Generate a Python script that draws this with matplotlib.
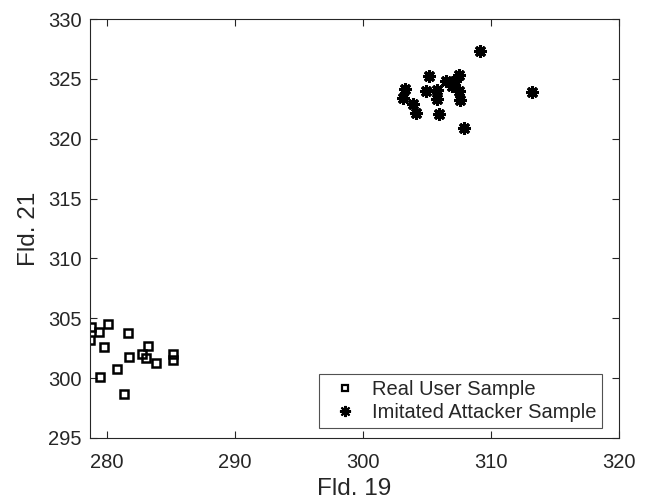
import matplotlib
matplotlib.use("Agg")
import matplotlib.pyplot as plt
from matplotlib.lines import Line2D

plt.rcParams['font.family'] = ['Liberation Sans', 'DejaVu Sans']

# real user samples (Fld. 19, Fld. 21)
real_x = [278.75, 280.13, 279.42, 278.7, 281.7, 279.82, 283.22, 282.75, 283.1,
          281.74, 283.84, 285.14, 285.2, 280.78, 279.45, 281.37]
real_y = [304.3, 304.5, 303.83, 303.2, 303.8, 302.63, 302.7, 302.05, 301.65,
          301.77, 301.3, 302.0, 301.5, 300.76, 300.1, 298.7]

# imitated attacker samples
atk_x = [309.18, 305.2, 303.27, 303.16, 303.94, 304.18, 304.96, 305.82, 305.77,
         305.95, 306.47, 306.99, 307.5, 307.5, 307.6, 307.86, 313.17, 307.2]
atk_y = [327.33, 325.26, 324.15, 323.43, 322.9, 322.17, 323.98, 324.04, 323.35,
         322.1, 324.84, 324.4, 325.3, 324.0, 323.2, 320.87, 323.9, 324.8]

labels = ['Real User Sample', 'Imitated Attacker Sample']
dark = '#262626'
star = (8, 2, 0)

fig = plt.figure(figsize=(6.49, 5.04), dpi=100)
ax = fig.add_axes([0.1387, 0.131, 0.8151, 0.8313])

ax.plot(real_x, real_y, linestyle='none', marker='s', markersize=6,
        markerfacecolor='none', markeredgecolor='black', markeredgewidth=1.8)
ax.plot(atk_x, atk_y, linestyle='none', marker=star, markersize=9,
        markeredgecolor='black', markeredgewidth=2.2)

ax.set_xlim(278.7, 320)
ax.set_ylim(295, 330)
ax.set_xticks([280, 290, 300, 310, 320])
ax.set_yticks([295, 300, 305, 310, 315, 320, 325, 330])

ax.tick_params(direction='in', top=True, right=True, length=5, width=0.8,
               labelsize=14.5, colors=dark)
ax.tick_params(axis='x', pad=11)
ax.tick_params(axis='y', pad=6)
for s in ax.spines.values():
    s.set_color(dark)
    s.set_linewidth(0.8)

ax.set_xlabel('Fld. 19', fontsize=17.5, color=dark, labelpad=4)
ax.set_ylabel('Fld. 21', fontsize=17.5, color=dark, labelpad=6)

# smaller markers in the legend, like the original
handles = [
    Line2D([], [], linestyle='none', marker='s', markersize=5,
           markerfacecolor='none', markeredgecolor='black', markeredgewidth=1.6),
    Line2D([], [], linestyle='none', marker=star, markersize=8,
           markeredgecolor='black', markeredgewidth=1.5),
]
leg = ax.legend(handles, labels, loc='lower right',
                bbox_to_anchor=(0.968, 0.024),
                fontsize=14.5, frameon=True, fancybox=False, edgecolor=dark,
                borderaxespad=0, borderpad=0.3, handlelength=2.0,
                handletextpad=0.3, labelspacing=0.2)
leg.get_frame().set_linewidth(0.8)
for t in leg.get_texts():
    t.set_color(dark)

fig.savefig('out.png', dpi=100)
